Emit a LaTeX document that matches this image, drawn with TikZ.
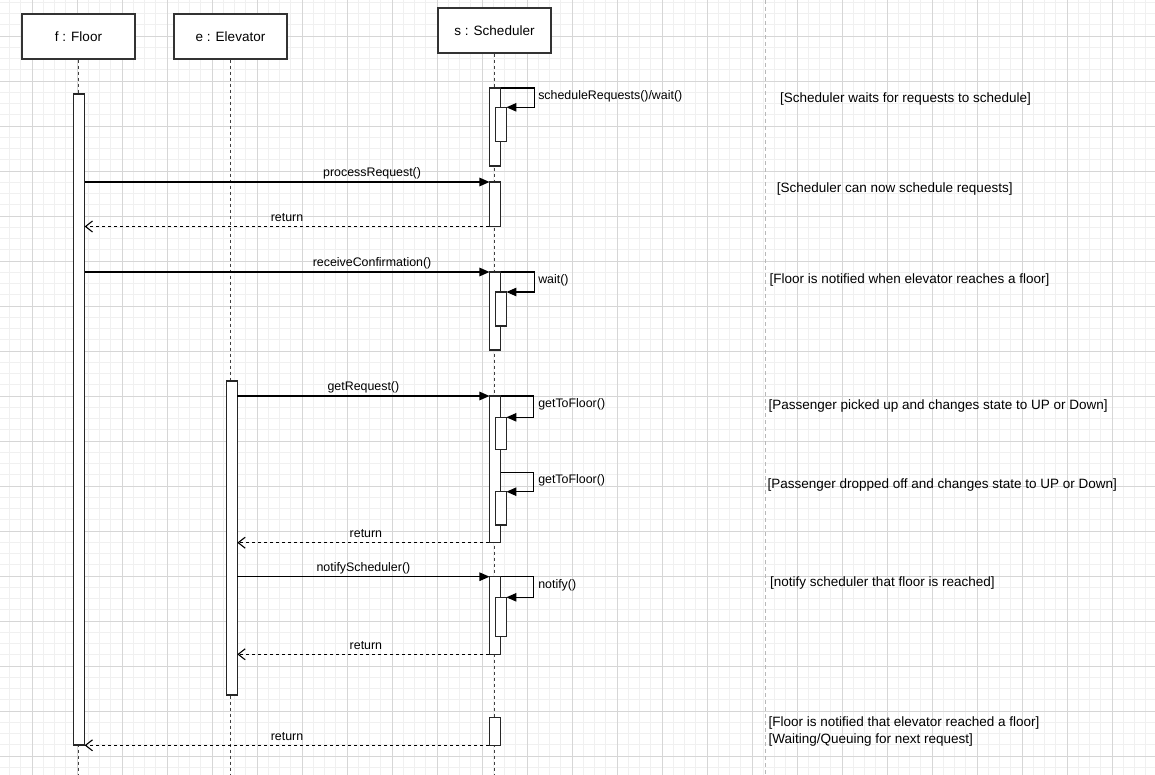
\documentclass[tikz,border=0pt]{standalone}
\usepackage{fontspec}
\setmainfont{Liberation Sans}
\usetikzlibrary{arrows.meta}

\tikzset{
  head/.style={draw=black!80, line width=1.1pt, fill=white, minimum width=113pt, minimum height=45pt, inner sep=0pt, font=\fontsize{13.5}{16}\selectfont},
  life/.style={draw=black!75, line width=1.1pt, dash pattern=on 3pt off 3pt},
  bar/.style={draw=black!85, line width=1.1pt, fill=white, minimum width=11.25pt, inner sep=0pt, outer sep=0pt, anchor=north},
  msg/.style={line width=1.1pt, -{Triangle[length=10pt,width=8.5pt]}},
  ret/.style={line width=1.1pt, dash pattern=on 3pt off 3pt, -{Straight Barb[length=7pt,width=11pt]}},
  lbl/.style={font=\fontsize{12.4}{14}\selectfont, inner sep=2pt, text height=9.3pt, text depth=2.6pt},
  note/.style={font=\fontsize{13.5}{16.7}\selectfont, anchor=west, align=left, inner sep=0pt},
  minorgrid/.style={draw=black!6, line width=0.8pt},
  majorgrid/.style={draw=black!16, line width=0.8pt},
}

\begin{document}
\begin{tikzpicture}[x=1pt, y=-1pt]
\useasboundingbox (0,0) rectangle (1155,775);
\fill[white] (0,0) rectangle (1155,775);

% background grid
\foreach \i in {0,...,101} \draw[minorgrid] ({9.5+11.25*\i},0) -- ({9.5+11.25*\i},775);
\foreach \i in {0,...,68} \draw[minorgrid] (0,{2.25+11.25*\i}) -- (1155,{2.25+11.25*\i});
\foreach \i in {0,...,24} \draw[majorgrid] ({32+45*\i},0) -- ({32+45*\i},775);
\foreach \i in {0,...,16} \draw[majorgrid] (0,{36+45*\i}) -- (1155,{36+45*\i});

% separator of the notes
\coordinate (sepTop) at (765,0);
\coordinate (sepBot) at (765,775);
\draw[black!28, line width=0.9pt, dash pattern=on 4pt off 3pt] (sepTop) -- (sepBot);

% lifelines
\coordinate (bottom) at (0,775);
\node[head] (f) at (78.5,36.5) {f : Floor};
\node[head] (e) at (230.5,36.5) {e : Elevator};
\node[head] (s) at (494.5,30.5) {s : Scheduler};
\draw[life] (f.south) -- (f.south |- bottom);
\draw[life] (e.south) -- (e.south |- bottom);
\draw[life] (s.south) -- (s.south |- bottom);

% activations
\node[bar, minimum height=651] (fbar) at (79,94) {};
\node[bar, minimum height=314] (ebar) at (231.7,381) {};
\node[bar, minimum height=78] (sA) at (495.1,88) {};
\node[bar, minimum height=34] (sA2) at (500.8,107.3) {};
\node[bar, minimum height=44.5] (sB) at (495.1,182) {};
\node[bar, minimum height=78] (sC) at (495.1,272) {};
\node[bar, minimum height=34] (sC2) at (500.8,292) {};
\node[bar, minimum height=146.7] (sD) at (495.1,396) {};
\node[bar, minimum height=32] (sD2) at (500.8,417.3) {};
\node[bar, minimum height=33.3] (sD3) at (500.8,491.7) {};
\node[bar, minimum height=77.6] (sE) at (495.1,576.7) {};
\node[bar, minimum height=39.4] (sE2) at (500.8,597.3) {};
\node[bar, minimum height=28] (sF) at (495.1,717.3) {};

% messages
\draw[msg] (fbar.east |- sB.north) -- (sB.north west) node[lbl, above, pos=0.71]{processRequest()};
\draw[ret] (sB.south west) -- (fbar.east |- sB.south) node[lbl, above, midway]{return};
\draw[msg] (fbar.east |- sC.north) -- (sC.north west) node[lbl, above, pos=0.71]{receiveConfirmation()};
\draw[msg] (ebar.east |- sD.north) -- (sD.north west) node[lbl, above, midway]{getRequest()};
\draw[ret] (sD.south west) -- (ebar.east |- sD.south) node[lbl, above, pos=0.49]{return};
\draw[msg] (ebar.east |- sE.north) -- (sE.north west) node[lbl, above, midway]{notifyScheduler()};
\draw[ret] (sE.south west) -- (ebar.east |- sE.south) node[lbl, above, pos=0.49]{return};
\draw[ret] (sF.south west) -- (fbar.east |- sF.south) node[lbl, above, midway]{return};

% self calls
\coordinate (sDloop) at (500.7,472.3);
\draw[msg] (sA.north east) -- ++(34,0) node[lbl, anchor=north west, inner sep=1.5pt, xshift=1.5pt]{scheduleRequests()/wait()} |- (sA2.north east);
\draw[msg] (sC.north east) -- ++(34,0) node[lbl, anchor=north west, inner sep=1.5pt, xshift=1.5pt]{wait()} |- (sC2.north east);
\draw[msg] (sD.north east) -- ++(33,0) node[lbl, anchor=north west, inner sep=1.5pt, xshift=2.5pt]{getToFloor()} |- (sD2.north east);
\draw[msg] (sDloop) -- ++(33,0) node[lbl, anchor=north west, inner sep=1.5pt, xshift=2.5pt]{getToFloor()} |- (sD3.north east);
\draw[msg] (sE.north east) -- ++(33,0) node[lbl, anchor=north west, inner sep=1.5pt, xshift=2.5pt]{notify()} |- (sE2.north east);

% notes
\node[note] (n1) at (780,99.5) {[Scheduler waits for requests to schedule]};
\node[note] (n2) at (776.7,188.8) {[Scheduler can now schedule requests]};
\node[note] (n3) at (769.3,279.7) {[Floor is notified when elevator reaches a floor]};
\node[note] (n4) at (768.3,405.8) {[Passenger picked up and changes state to UP or Down]};
\node[note] (n5) at (767.3,485) {[Passenger dropped off and changes state to UP or Down]};
\node[note] (n6) at (770,582.8) {[notify scheduler that floor is reached]};
\node[note] (n7) at (768.3,731.8) {[Floor is notified that elevator reached a floor]\\{}[Waiting/Queuing for next request]};

\end{tikzpicture}
\end{document}
